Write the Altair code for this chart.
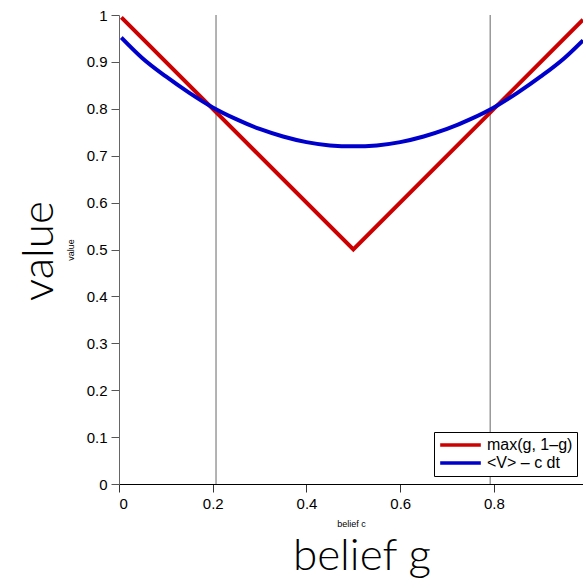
import altair as alt
import pandas as pd

# red: max(g, 1-g)
red_g = [0.005, 0.5, 0.99]
red_v = [0.995, 0.5, 0.99]

# blue: <V> - c dt
blue_g = [0.005, 0.05, 0.1, 0.15, 0.2, 0.25, 0.3, 0.35, 0.4, 0.45, 0.5,
          0.55, 0.6, 0.65, 0.7, 0.75, 0.8, 0.85, 0.9, 0.95, 0.99]
blue_v = [0.952, 0.908, 0.869, 0.834, 0.803, 0.778, 0.757, 0.741, 0.729, 0.722, 0.720,
          0.722, 0.729, 0.741, 0.757, 0.778, 0.803, 0.834, 0.869, 0.908, 0.946]

thresholds = [0.207, 0.792]
y_ticks = [0, 0.1, 0.2, 0.3, 0.4, 0.5, 0.6, 0.7, 0.8, 0.9, 1]
x_ticks = [0, 0.2, 0.4, 0.6, 0.8]
series_names = ["max(g, 1\u2013g)", "<V> \u2013 c dt"]
series_colors = ["#cc0000", "#0000cc"]

df_red = pd.DataFrame({"g": red_g, "v": red_v, "series": series_names[0]})
df_blue = pd.DataFrame({"g": blue_g, "v": blue_v, "series": series_names[1]})
df_rules = pd.DataFrame({"g": thresholds})

W, H = 464, 469
FONT = "Liberation Sans"

x_scale = alt.Scale(domain=[0, 0.99], nice=False, zero=False)
y_scale = alt.Scale(domain=[0, 1], nice=False)

x_enc = alt.X("g:Q", scale=x_scale,
              axis=alt.Axis(values=x_ticks, title="belief c", titleFontSize=9,
                            titleFontWeight="normal", titlePadding=8,
                            domainColor="black", tickColor="#333", tickSize=8,
                            labelPadding=4, format="~g"))
y_enc = alt.Y("v:Q", scale=y_scale,
              axis=alt.Axis(values=y_ticks, title="value", titleFontSize=9,
                            titleFontWeight="normal", titlePadding=11,
                            domainColor="#666", tickColor="#555", tickSize=8,
                            labelPadding=4, format="~g"))
color_enc = alt.Color("series:N",
                      scale=alt.Scale(domain=series_names, range=series_colors),
                      legend=alt.Legend(title=None, orient="none", legendX=315, legendY=417,
                                        symbolType="stroke", symbolSize=1650,
                                        symbolStrokeWidth=3.5, labelFontSize=16,
                                        labelFont=FONT, strokeColor="black",
                                        fillColor="white", padding=4, rowPadding=0,
                                        clipHeight=18, labelOffset=4))

rules = alt.Chart(df_rules).mark_rule(color="#8a8a8a", strokeWidth=1.3).encode(
    x=alt.X("g:Q", scale=x_scale)
)

red_line = alt.Chart(df_red).mark_line(strokeWidth=4).encode(
    x=x_enc, y=y_enc, color=color_enc)
blue_line = alt.Chart(df_blue).mark_line(strokeWidth=4, interpolate="monotone").encode(
    x=x_enc, y=y_enc, color=color_enc)

big_y = alt.Chart().mark_text(text="value", font="Lato", fontWeight=300, fontSize=44,
                              angle=270, align="center", baseline="middle",
                              color="black").encode(
    x=alt.value(-79), y=alt.value(236))
big_x = alt.Chart().mark_text(text="belief g", font="Lato", fontWeight=300, fontSize=44,
                              align="center", baseline="alphabetic",
                              color="black").encode(
    x=alt.value(243), y=alt.value(555))

chart = alt.layer(rules, red_line, blue_line, big_y, big_x).properties(
    width=W, height=H,
    autosize=alt.AutoSizeParams(type="none"),
    padding={"left": 119, "top": 15, "right": 0, "bottom": 101},
).configure_view(stroke=None).configure_axis(
    grid=False, labelFont=FONT, titleFont=FONT, labelFontSize=15,
    labelColor="black", titleColor="black"
)

chart.save("out.html", embed_options={"renderer": "svg", "actions": False})
